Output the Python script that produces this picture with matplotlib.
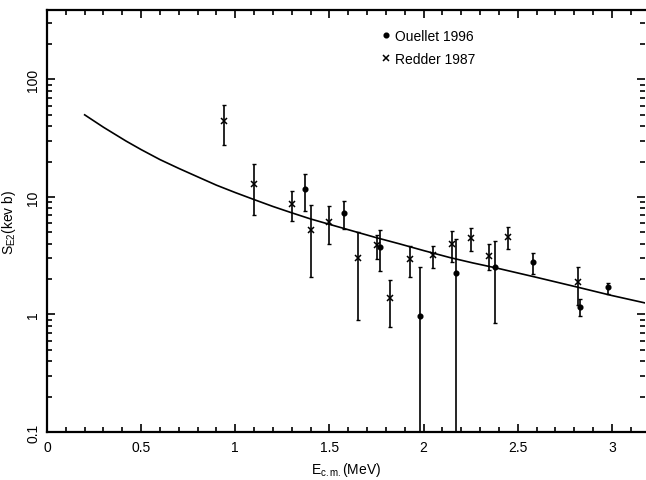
import matplotlib
matplotlib.use("Agg")
import matplotlib.pyplot as plt
import numpy as np
from matplotlib.ticker import FixedLocator, LogLocator, NullFormatter, MultipleLocator

plt.rcParams['font.family'] = ['Liberation Sans', 'DejaVu Sans']
plt.rcParams['mathtext.fontset'] = 'custom'
plt.rcParams['mathtext.rm'] = 'Liberation Sans'
plt.rcParams['mathtext.it'] = 'Liberation Sans:italic'

# Ouellet 1996 (dots)
ou_x = [1.37, 1.58, 1.77, 1.98, 2.17, 2.38, 2.58, 2.83, 2.98]
ou_y = [11.8, 7.35, 3.78, 0.98, 2.24, 2.52, 2.80, 1.16, 1.70]
ou_hi = [15.7, 9.3, 5.24, 2.54, 4.42, 4.25, 3.32, 1.36, 1.87]
ou_lo = [7.6, 5.34, 2.36, 0.01, 0.01, 0.85, 2.21, 0.98, 1.49]

# Redder 1987 (crosses)
re_x = [0.94, 1.10, 1.30, 1.40, 1.50, 1.65, 1.75, 1.82, 1.93, 2.05, 2.15, 2.25, 2.35, 2.45, 2.82]
re_y = [44.1, 13.0, 8.7, 5.27, 6.1, 3.0, 3.88, 1.38, 2.98, 3.23, 3.98, 4.48, 3.17, 4.57, 1.89]
re_hi = [60.3, 19.1, 11.2, 8.5, 8.4, 5.04, 4.78, 1.98, 3.80, 3.85, 5.17, 5.48, 3.96, 5.56, 2.55]
re_lo = [27.9, 7.0, 6.2, 2.08, 4.0, 0.90, 2.97, 0.79, 2.08, 2.47, 2.78, 3.47, 2.39, 3.59, 1.20]

# theoretical curve
curve_x = [0.20, 0.30, 0.42, 0.50, 0.60, 0.70, 0.81, 0.90, 1.00, 1.10, 1.20, 1.30,
           1.40, 1.50, 1.64, 1.75, 1.87, 2.00, 2.14, 2.26, 2.39, 2.60, 2.81, 3.00, 3.18]
curve_y = [50.0, 39.2, 29.9, 25.3, 20.8, 17.5, 14.6, 12.6, 10.9, 9.5, 8.3, 7.33,
           6.5, 5.85, 5.05, 4.5, 4.0, 3.5, 3.05, 2.75, 2.48, 2.07, 1.72, 1.45, 1.25]

x_ticks = [0, 0.5, 1, 1.5, 2, 2.5, 3]
x_ticklabels = ['0', '0.5', '1', '1.5', '2', '2.5', '3']
y_ticks = [0.1, 1, 10, 100]
y_ticklabels = ['0.1', '1', '10', '100']

W, H = 646, 481
fig = plt.figure(figsize=(W / 100, H / 100), dpi=100)
ax = fig.add_axes([47 / W, 48 / H, 598 / W, 422 / H])

ax.set_yscale('log')
ax.set_xlim(0, 3.176)
ax.set_ylim(0.1, 390)

ax.plot(curve_x, curve_y, color='black', lw=1.2, zorder=2)

def draw(xs, ys, lo, hi, marker, ms, label):
    ys = np.array(ys); lo = np.array(lo); hi = np.array(hi)
    yerr = np.vstack([ys - lo, hi - ys])
    ax.errorbar(xs, ys, yerr=yerr, fmt='none', ecolor='black', elinewidth=1.2,
                capsize=1.7, capthick=1.0, zorder=3)
    ax.plot(xs, ys, linestyle='none', marker=marker, color='black', ms=ms,
            mew=1.1, label=label, zorder=4)

draw(ou_x, ou_y, ou_lo, ou_hi, 'o', 3.3, 'Ouellet 1996')
draw(re_x, re_y, re_lo, re_hi, 'x', 4.0, 'Redder 1987')

ax.xaxis.set_major_locator(FixedLocator(x_ticks))
ax.set_xticklabels(x_ticklabels)
ax.xaxis.set_minor_locator(MultipleLocator(0.1))
ax.yaxis.set_major_locator(FixedLocator(y_ticks))
ax.set_yticklabels(y_ticklabels, rotation=90, va='center')
ax.yaxis.set_minor_locator(LogLocator(base=10, subs=np.arange(2, 10)))
ax.yaxis.set_minor_formatter(NullFormatter())

ax.tick_params(which='both', direction='in', top=True, right=True, labelsize=10, width=1.2)
ax.tick_params(which='major', length=6)
ax.tick_params(which='minor', length=3.5)
ax.tick_params(axis='x', pad=6)
ax.tick_params(axis='y', pad=5)

for s in ['left', 'bottom', 'top']:
    ax.spines[s].set_linewidth(1.6)
ax.spines['right'].set_visible(False)

ax.set_xlabel(r'E$_{\rm c.m.}$(MeV)', fontsize=10, labelpad=4)
ax.set_ylabel(r'S$_{\rm E2}$(kev b)', fontsize=10, labelpad=6)

leg = ax.legend(loc='upper left', bbox_to_anchor=(0.55, 0.968), frameon=False,
                fontsize=10, handlelength=0.6, handletextpad=0.4, labelspacing=0.65,
                borderaxespad=0)

fig.savefig('out.png', dpi=100)
